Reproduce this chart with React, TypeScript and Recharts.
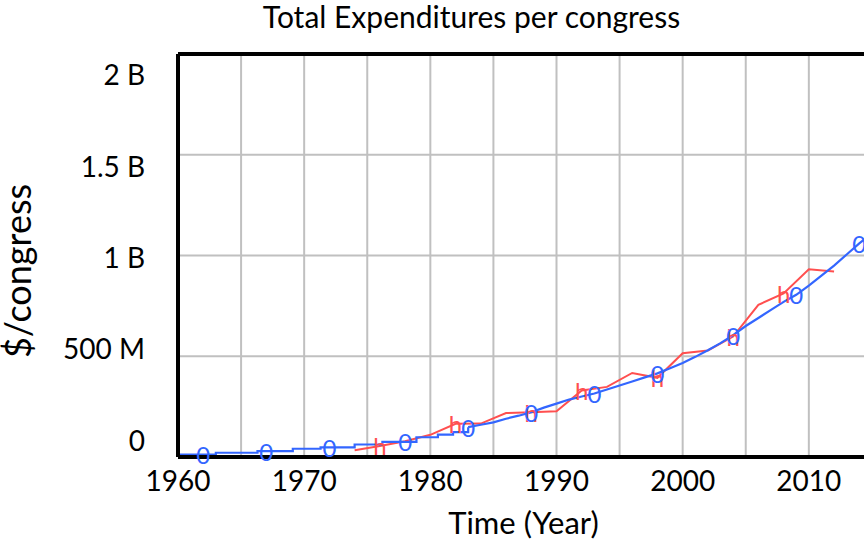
import React from 'react';
import { LineChart, Line, XAxis, YAxis, CartesianGrid, ReferenceLine } from 'recharts';

// Blue series ("0" markers): $/congress, millions — coarse steps before 1983
const blueStepYears = [1960, 1962, 1963, 1966.3, 1967, 1969.1, 1971.3, 1972, 1974, 1976.2, 1978, 1978.9, 1980.6, 1981.8, 1983];
const blueStepValues = [12, 12, 21, 29, 29, 41, 48, 48, 62, 75, 75, 98, 111, 123, 148];
// Blue series, fine staircase from 1983 on
const blueFineYears = [1983, 1984, 1985, 1986, 1987, 1988, 1989, 1990, 1991, 1992, 1993, 1994, 1995, 1996, 1997, 1998, 1999,
  2000, 2001, 2002, 2003, 2004, 2005, 2006, 2007, 2008, 2009, 2010, 2011, 2012, 2013, 2014, 2015];
const blueFineValues = [148, 160, 172, 190, 205, 222, 245, 265, 285, 300, 315, 335, 355, 375, 395, 415, 440,
  466, 497, 530, 565, 605, 650, 690, 730, 770, 805, 850, 900, 950, 1005, 1060, 1110];
const blueMarkerYears = [1962, 1967, 1972, 1978, 1983, 1988, 1993, 1998, 2004, 2009, 2014];

// Red series ("h" markers)
const redYears = [1974, 1976, 1978, 1980, 1982, 1984, 1986, 1988, 1990, 1992, 1994, 1996, 1998, 2000, 2002, 2004, 2006, 2008, 2010, 2012];
const redValues = [34, 55, 78, 110, 165, 166, 218, 222, 227, 330, 348, 417, 393, 515, 529, 598, 755, 812, 932, 920];
const redMarkerYears = [1976, 1982, 1988, 1992, 1998, 2004, 2008];

const xGridTicks = [1960, 1965, 1970, 1975, 1980, 1985, 1990, 1995, 2000, 2005, 2010, 2015, 2020];
const xLabelYears = [1960, 1970, 1980, 1990, 2000, 2010, 2020];
const yTicks = [0, 500e6, 1e9, 1.5e9, 2e9];
const yTickLabels = ['0', '500 M', '1 B', '1.5 B', '2 B'];

const blueStepData = blueStepYears.map((year, i) => ({ year, value: blueStepValues[i] * 1e6 }));
const blueFineData = blueFineYears.map((year, i) => ({ year, value: blueFineValues[i] * 1e6 }));
const redData = redYears.map((year, i) => ({ year, value: redValues[i] * 1e6 }));

const FONT = 'Lato, "Open Sans", sans-serif';
const BLUE = '#3366ff';
const RED = '#ff4f4f';

const makeDot = (years: number[], glyph: string, color: string, skip?: number) => (props: any) => {
  const { cx, cy, payload, index } = props;
  if (!years.includes(payload.year) || payload.year === skip) return <g key={`e${index}`} />;
  return (
    <text key={`d${index}`} x={cx} y={cy} textAnchor="middle" dominantBaseline="central"
      fontFamily={FONT} fontSize={24} fill={color}>{glyph}</text>
  );
};

const XTick = (props: any) => {
  const { x, y, payload } = props;
  if (!xLabelYears.includes(payload.value)) return <g />;
  return (
    <text x={x} y={y + 26} textAnchor="middle" fontFamily={FONT} fontSize={28} fill="#000">{payload.value}</text>
  );
};

const YTick = (props: any) => {
  const { y, payload } = props;
  const idx = yTicks.indexOf(payload.value);
  const ly = 257 + (y - 255.5) * 0.908;
  return (
    <text x={145} y={ly} textAnchor="end" dominantBaseline="central" fontFamily={FONT} fontSize={28} fill="#000">
      {yTickLabels[idx]}
    </text>
  );
};

export default function App() {
  return (
    <div style={{ position: 'absolute', left: 0, top: 0, width: 864, height: 543, overflow: 'hidden', background: '#fff' }}>
      <LineChart width={935} height={543} margin={{ top: 54, right: 0, bottom: 0, left: 0 }}>
        <CartesianGrid stroke="#c0c0c0" strokeWidth={2} />
        <XAxis dataKey="year" type="number" domain={[1960, 2020]} ticks={xGridTicks} allowDuplicatedCategory={false}
          height={86} tickLine={false} axisLine={{ stroke: '#000', strokeWidth: 4 }} tick={<XTick />} interval={0} />
        <YAxis type="number" domain={[0, 2e9]} ticks={yTicks} width={178} tickLine={false}
          axisLine={{ stroke: '#000', strokeWidth: 4 }} tick={<YTick />} interval={0} />
        <ReferenceLine y={2e9} stroke="#000" strokeWidth={4} />
        <ReferenceLine x={2020} stroke="#000" strokeWidth={4} />
        <Line data={redData} dataKey="value" type="linear" stroke={RED} strokeWidth={2}
          dot={makeDot(redMarkerYears, 'h', RED)} activeDot={false} isAnimationActive={false} />
        <Line data={blueStepData} dataKey="value" type="stepAfter" stroke={BLUE} strokeWidth={2.2}
          dot={makeDot(blueMarkerYears, '0', BLUE, 1983)} activeDot={false} isAnimationActive={false} />
        <Line data={blueFineData} dataKey="value" type="linear" stroke={BLUE} strokeWidth={2.2}
          dot={makeDot(blueMarkerYears, '0', BLUE)} activeDot={false} isAnimationActive={false} />
      </LineChart>
      <svg width={864} height={543} style={{ position: 'absolute', left: 0, top: 0, pointerEvents: 'none' }}>
        <text x={471.5} y={28} textAnchor="middle" fontFamily={FONT} fontSize={30} fill="#000">Total Expenditures per congress</text>
        <text x={523.5} y={534} textAnchor="middle" fontFamily={FONT} fontSize={31} fill="#000">Time (Year)</text>
        <text transform="translate(31, 271) rotate(-90)" textAnchor="middle" fontFamily={FONT} fontSize={36} fill="#000">$/congress</text>
      </svg>
    </div>
  );
}
